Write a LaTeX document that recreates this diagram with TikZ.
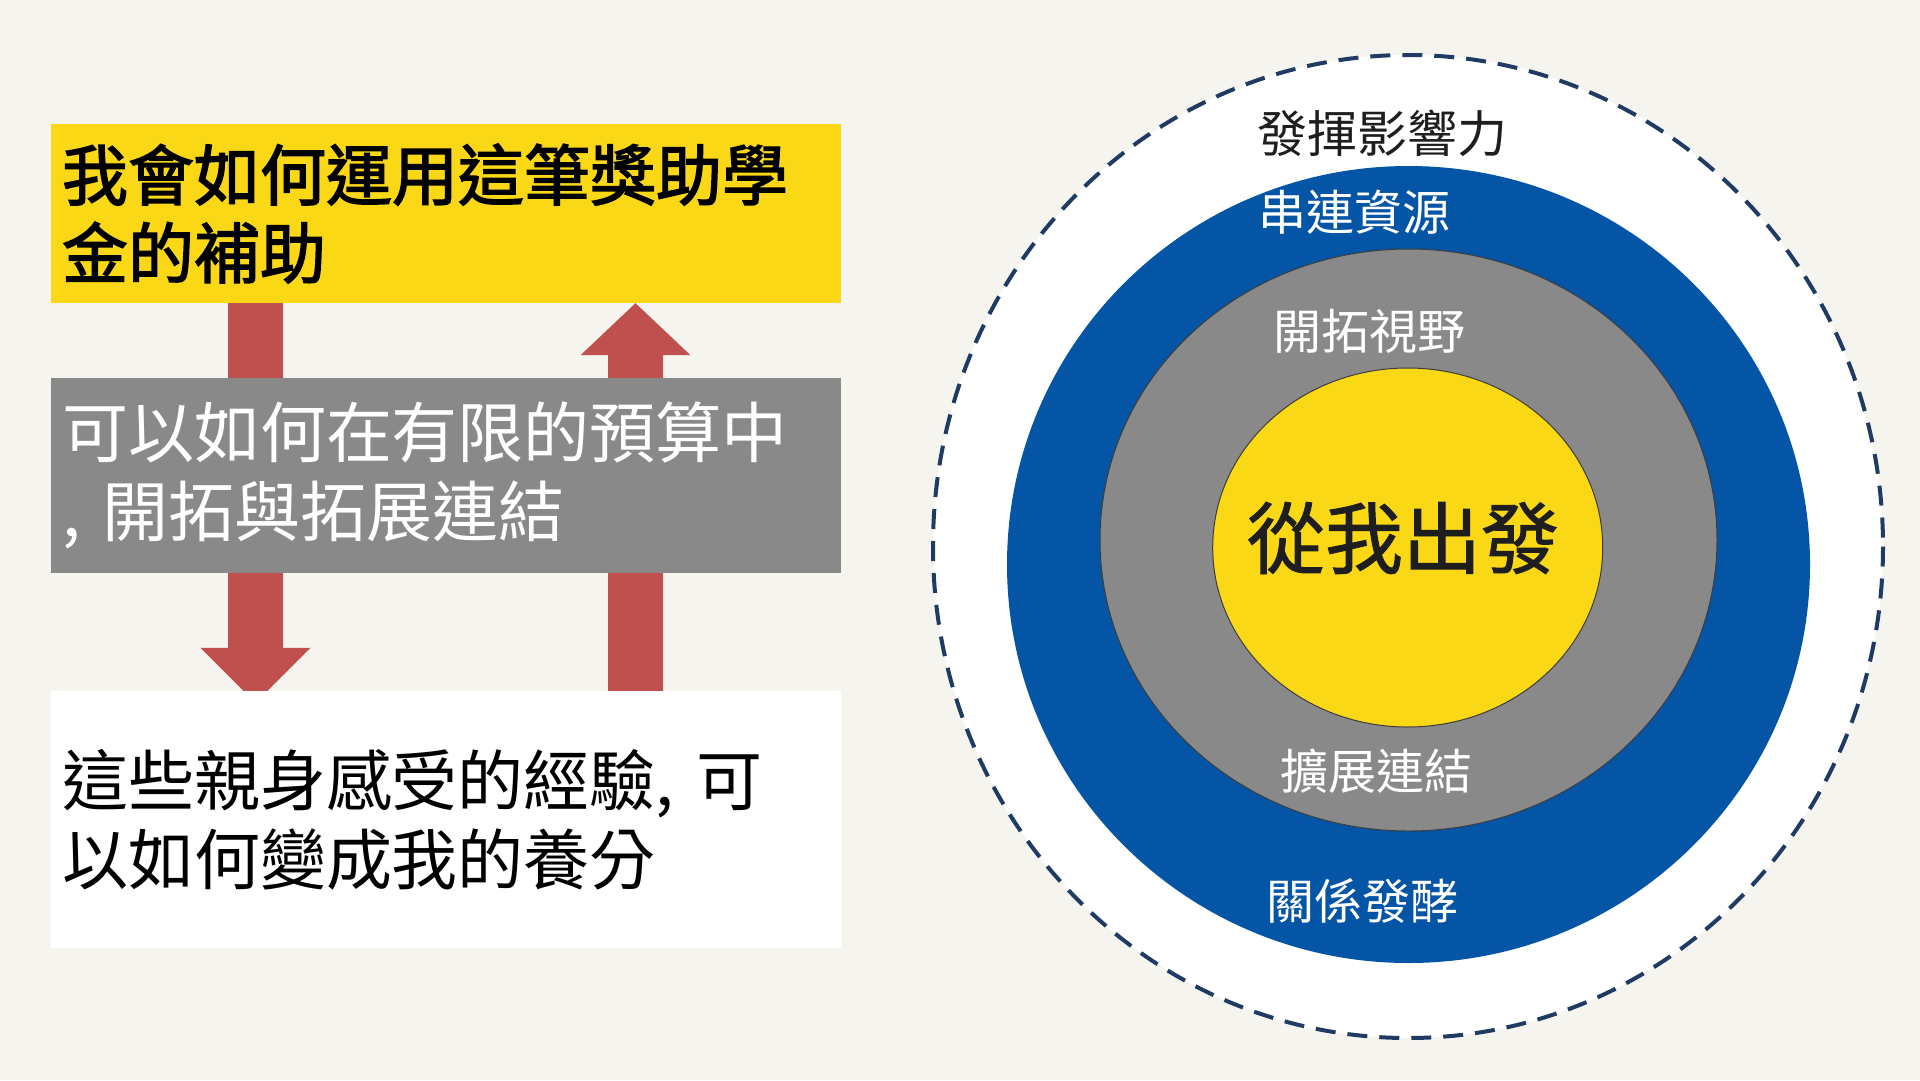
\documentclass[tikz,border=0pt]{standalone}
\usepackage{fontspec}
\setmainfont{Noto Sans CJK TC}
\newfontfamily\semibold[FakeBold=2.2]{Noto Sans CJK TC}
\newfontfamily\corefont[FakeBold=1.2]{Noto Sans CJK TC}
\usetikzlibrary{calc}
\pgfdeclarelayer{back}
\pgfsetlayers{back,main}
\definecolor{bgc}{HTML}{F6F4EF}
\definecolor{boxyellow}{HTML}{FAD816}
\definecolor{boxgray}{HTML}{898989}
\definecolor{arrowred}{HTML}{C0504D}
\definecolor{ringblue}{HTML}{0455A5}
\definecolor{dashnavy}{HTML}{1F3B63}
\definecolor{textdark}{HTML}{1E1E1E}
\definecolor{edgegray}{HTML}{3C3C3C}
\begin{document}
\begin{tikzpicture}[x=1pt,y=-1pt,
  box/.style={rectangle, minimum width=790, text width=768, inner xsep=11,
    inner ysep=0, align=left, anchor=center, font={\fontsize{66}{79}\selectfont}},
  ringlabel/.style={inner sep=0, anchor=center, font={\fontsize{48}{56}\selectfont}},
  ringedge/.style={draw=edgegray, line width=1},
  dashring/.style={draw=dashnavy, line width=4, dash pattern=on 20pt off 12pt}]
\begin{pgfonlayer}{back}
\fill[bgc] (0,0) rectangle (1920,1080);
\end{pgfonlayer}
\useasboundingbox (0,0) rectangle (1920,1080);

% left column boxes
\node[box, fill=boxyellow, minimum height=179, text=black, font={\fontsize{66}{78}\semibold}]
  (yellow) at (446,213.5) {我會如何運用這筆獎助學\\金的補助};
\node[box, fill=boxgray, minimum height=195, text=white] (gray) at (446,475.5)
  {可以如何在有限的預算中\\, 開拓與拓展連結};
\node[box, fill=white, minimum height=257, text=black] (white) at (446,819.5)
  {這些親身感受的經驗, 可\\以如何變成我的養分};

% block arrows behind the boxes
\coordinate (dl) at (255.5,0);
\coordinate (ul) at (635.5,0);
\begin{pgfonlayer}{back}
\fill[arrowred] ($(yellow.south -| dl)+(-27.5,-2)$) -- ($(white.north -| dl)+(-27.5,-43)$)
  -- ($(white.north -| dl)+(-55,-43)$) -- ($(white.north -| dl)+(0,12)$)
  -- ($(white.north -| dl)+(55,-43)$) -- ($(white.north -| dl)+(27.5,-43)$)
  -- ($(yellow.south -| dl)+(27.5,-2)$) -- cycle;
\fill[arrowred] ($(white.north -| ul)+(-27.5,2)$) -- ($(yellow.south -| ul)+(-27.5,52)$)
  -- ($(yellow.south -| ul)+(-55,52)$) -- (yellow.south -| ul)
  -- ($(yellow.south -| ul)+(55,52)$) -- ($(yellow.south -| ul)+(27.5,52)$)
  -- ($(white.north -| ul)+(27.5,2)$) -- cycle;
\end{pgfonlayer}

% concentric rings
\draw[dashring, fill=white] (1408,546.5) ellipse [x radius=475, y radius=491.5];
\fill[ringblue] (1408.5,564.5) ellipse [x radius=401.5, y radius=398.5];
\draw[ringedge, fill=boxgray] (1408.5,540) ellipse [x radius=308.5, y radius=291];
\draw[ringedge, fill=boxyellow] (1407.7,547.5) ellipse [x radius=195, y radius=179.5];

\node[ringlabel, text=textdark, font={\fontsize{50}{58}\selectfont}] (impact) at (1382,133) {發揮影響力};
\node[ringlabel, text=white] (link) at (1354.5,212) {串連資源};
\node[ringlabel, text=white] (vision) at (1369,331) {開拓視野};
\node[ringlabel, text=textdark, font={\fontsize{78}{90}\corefont}] (core) at (1403,538) {從我出發};
\node[ringlabel, text=white] (expand) at (1376,771) {擴展連結};
\node[ringlabel, text=white] (ferment) at (1362.5,901) {關係發酵};
\end{tikzpicture}
\end{document}
